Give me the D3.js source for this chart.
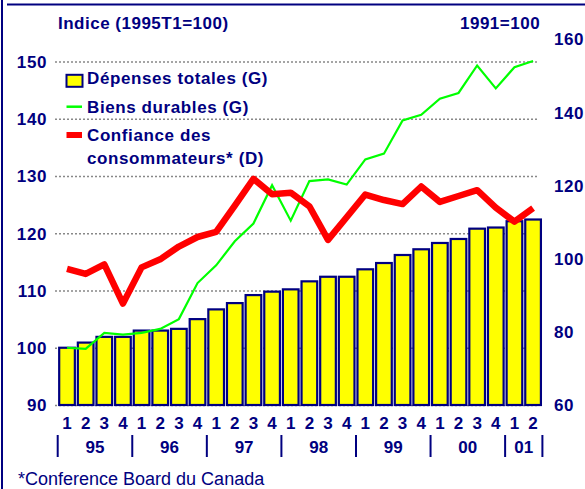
<!DOCTYPE html>
<html><head><meta charset="utf-8">
<script src="https://cdn.jsdelivr.net/npm/d3@7"></script>
<style>
html,body{margin:0;padding:0;background:#fff;}
svg{display:block;}
text{font-family:"Liberation Sans",Arial,Helvetica,sans-serif;fill:#000080;}
</style></head>
<body>
<svg id="c" width="585" height="489"></svg>
<script>
const quarters = ["1","2","3","4","1","2","3","4","1","2","3","4","1","2","3","4","1","2","3","4","1","2","3","4","1","2"];
const years = ["95","96","97","98","99","00","01"];
const yearStarts = [0,4,8,12,16,20,24];
const yearEnds = [4,8,12,16,20,24,26];
const depensesTotales = [100.0,100.9,101.9,101.9,103.0,103.0,103.3,105.0,106.7,107.8,109.2,109.8,110.2,111.6,112.4,112.4,113.7,114.8,116.2,117.2,118.3,119.0,120.8,121.0,122.1,122.4];
const biensDurables = [100.0,99.8,102.6,102.3,102.6,103.3,105.0,111.3,114.4,118.6,121.7,128.4,122.2,129.1,129.4,128.5,132.9,133.9,139.7,140.7,143.5,144.5,149.3,145.3,149.0,150.1];
const confiance = [97.2,95.8,98.4,87.7,97.6,99.8,103.3,105.9,107.3,114.5,121.8,117.6,118.0,114.3,105.1,111.3,117.5,116.0,114.9,119.7,115.5,117.1,118.7,113.9,110.1,113.8];
const leftTicks = [90,100,110,120,130,140,150];
const rightTicks = [60,80,100,120,140,160];
const legendLabels = ["Dépenses totales (G)","Biens durables (G)","Confiance des","consommateurs* (D)"];

const NAVY = "#000080";
const svg = d3.select("#c");

const x = d3.scaleBand().domain(d3.range(quarters.length)).range([57.7, 542.4]).paddingInner(0.16).paddingOuter(0.08);
const yL = d3.scaleLinear().domain([90,150]).range([405, 61.5]);
const yR = d3.scaleLinear().domain([60,160]).range([405, 39]);
const step = x.step();
const cx = i => x(i) + x.bandwidth()/2;
const bound = i => (i < quarters.length ? cx(i) : cx(quarters.length-1) + step) - step/2;

// frame
svg.append("line").attr("x1",2).attr("x2",2).attr("y1",0).attr("y2",489).attr("stroke",NAVY).attr("stroke-width",2);
svg.append("line").attr("x1",7).attr("x2",585).attr("y1",4.5).attr("y2",4.5).attr("stroke",NAVY).attr("stroke-width",2);

// gridlines
const grid = svg.append("g").attr("transform","translate(55,0)")
  .call(d3.axisRight(yL).tickValues(leftTicks).tickSize(484).tickFormat(""));
grid.select(".domain").remove();
grid.selectAll("line").attr("stroke","#888").attr("stroke-width",1.4).attr("stroke-dasharray","2,2");

// left axis labels
const la = svg.append("g").attr("transform","translate(47,0)")
  .call(d3.axisLeft(yL).tickValues(leftTicks).tickSize(0).tickPadding(0));
la.select(".domain").remove();
la.selectAll("text").attr("fill",NAVY).style("font-size","17px").style("font-weight","bold").style("letter-spacing","0.6px").attr("dy","0.35em").attr("font-family",null);

// right axis labels
const ra = svg.append("g").attr("transform","translate(554,0)")
  .call(d3.axisRight(yR).tickValues(rightTicks).tickSize(0).tickPadding(0));
ra.select(".domain").remove();
ra.selectAll("text").attr("fill",NAVY).style("font-size","17px").style("font-weight","bold").style("letter-spacing","0.6px").attr("dy","0.35em").attr("font-family",null);

// bars
svg.append("g").selectAll("rect").data(depensesTotales).join("rect")
  .attr("x",(d,i)=>x(i)).attr("width",x.bandwidth())
  .attr("y",d=>yL(d)).attr("height",d=>yL(90)-yL(d))
  .attr("fill","#ffff00").attr("stroke",NAVY).attr("stroke-width",2.2);

// green line
svg.append("path").datum(biensDurables)
  .attr("d", d3.line().x((d,i)=>cx(i)).y(d=>yL(d)))
  .attr("fill","none").attr("stroke","#00ff00").attr("stroke-width",2.2).attr("stroke-linejoin","miter");

// red line
svg.append("path").datum(confiance)
  .attr("d", d3.line().x((d,i)=>cx(i)).y(d=>yR(d)))
  .attr("fill","none").attr("stroke","#ff0000").attr("stroke-width",6.5).attr("stroke-linejoin","round");

// quarter axis
const qa = svg.append("g").attr("transform","translate(0,417)")
  .call(d3.axisBottom(x).tickFormat(i=>quarters[i]).tickSize(0).tickPadding(0));
qa.select(".domain").remove();
qa.selectAll("text").attr("fill",NAVY).style("font-size","17px").style("font-weight","bold").attr("font-family",null);

// year separators and labels
const yg = svg.append("g");
const seps = yearStarts.concat([yearEnds[yearEnds.length-1]]);
yg.selectAll("line").data(seps).join("line")
  .attr("x1",d=>bound(d)).attr("x2",d=>bound(d)).attr("y1",435).attr("y2",457)
  .attr("stroke",NAVY).attr("stroke-width",2);
yg.selectAll("text").data(years).join("text")
  .attr("x",(d,i)=>(bound(yearStarts[i])+bound(yearEnds[i]))/2).attr("y",453)
  .attr("text-anchor","middle").style("font-size","17px").style("font-weight","bold").text(d=>d);

// titles
svg.append("text").attr("x",58).attr("y",29).style("font-size","17px").style("font-weight","bold").style("letter-spacing","0.5px").text("Indice (1995T1=100)");
svg.append("text").attr("x",460).attr("y",29).style("font-size","17px").style("font-weight","bold").style("letter-spacing","0.5px").text("1991=100");

// legend
const lg = svg.append("g");
lg.append("rect").attr("x",66.5).attr("y",74.8).attr("width",16).attr("height",12).attr("fill","#ffff00").attr("stroke",NAVY).attr("stroke-width",2);
lg.append("line").attr("x1",66.5).attr("x2",82).attr("y1",106.7).attr("y2",106.7).attr("stroke","#00ff00").attr("stroke-width",2.5);
lg.append("line").attr("x1",66.5).attr("x2",82).attr("y1",135).attr("y2",135).attr("stroke","#ff0000").attr("stroke-width",6);
const lys = [84.3,112.5,140.5,163.5];
lg.selectAll("text").data(legendLabels).join("text")
  .attr("x",87).attr("y",(d,i)=>lys[i]).style("font-size","17px").style("font-weight","bold").style("letter-spacing","0.6px").text(d=>d);

// footnote
svg.append("text").attr("x",18).attr("y",484.5).style("font-size","18px").text("*Conference Board du Canada");
</script>
</body></html>
